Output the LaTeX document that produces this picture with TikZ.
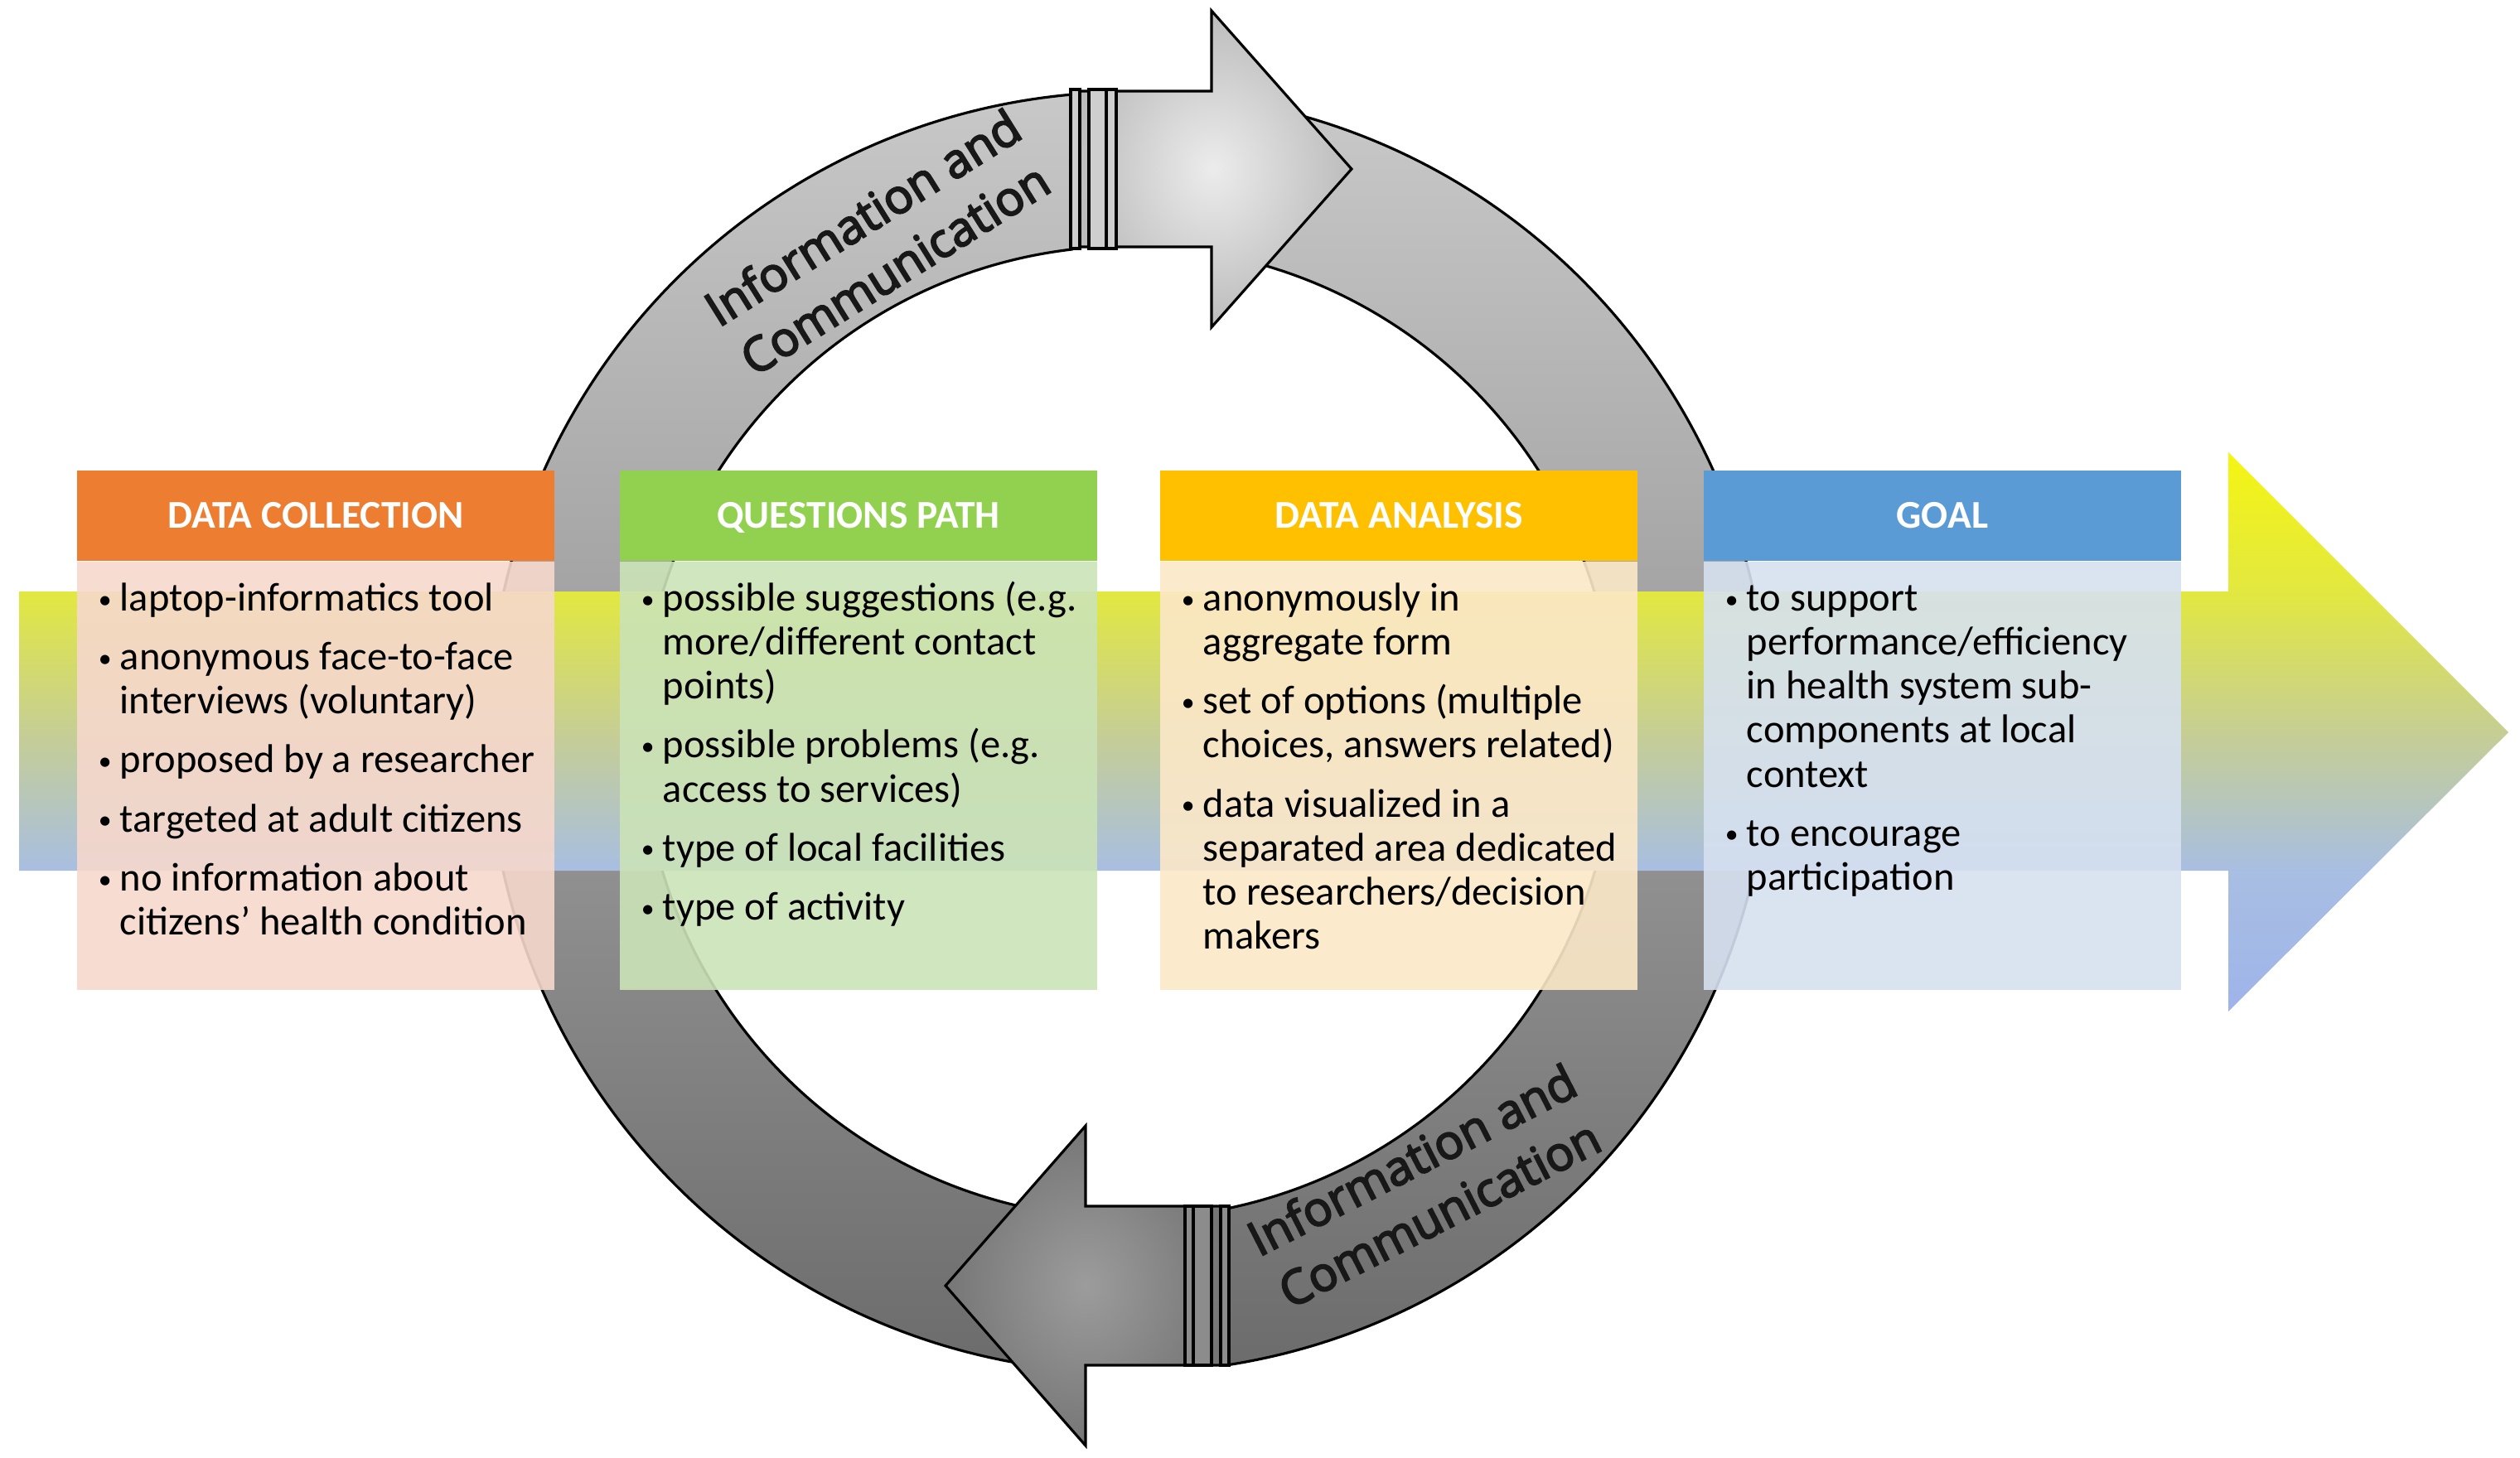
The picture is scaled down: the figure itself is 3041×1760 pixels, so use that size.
\documentclass[tikz,border=0pt]{standalone}
\usepackage{fontspec}
\setmainfont{Carlito}
\newfontfamily\ringfont[FakeBold=3.5]{Open Sans}
\usetikzlibrary{positioning,calc}

\definecolor{dccol}{HTML}{ED7D31}
\definecolor{qpcol}{HTML}{92D050}
\definecolor{dacol}{HTML}{FFC000}
\definecolor{goalcol}{HTML}{5B9BD5}
\definecolor{dcbody}{RGB}{246,216,204}
\definecolor{qpbody}{RGB}{203,227,183}
\definecolor{dabody}{RGB}{252,232,200}
\definecolor{goalbody}{RGB}{214,225,240}
\definecolor{ringtop}{RGB}{200,200,200}
\definecolor{ringbot}{RGB}{108,108,108}
\definecolor{flowtop}{RGB}{245,245,18}
\definecolor{flowhigh}{RGB}{226,232,64}
\definecolor{flowmid}{RGB}{198,206,148}
\definecolor{flowlow}{RGB}{168,190,226}
\definecolor{flowbot}{RGB}{158,180,234}
\pgfdeclareverticalshading{flowshade}{100bp}{color(0bp)=(flowbot); color(25bp)=(flowbot);
  color(37.5bp)=(flowlow); color(50bp)=(flowmid); color(62.5bp)=(flowhigh);
  color(75bp)=(flowtop); color(100bp)=(flowtop)}

\newcommand\bul{\makebox[0.26cm][l]{\raisebox{0.9pt}{\fontsize{9}{9}\selectfont\textbullet}}}
\newcommand\ind{\hspace*{0.26cm}}

\begin{document}
\begin{tikzpicture}[x=0.01cm, y=0.01cm,
    ring/.style={draw=black, line width=0.9pt, top color=ringtop, bottom color=ringbot},
    bar/.style={draw=black, line width=0.9pt},
    ringtxt/.style={align=center, inner sep=0pt, text={rgb,255:red,24;green,24;blue,24},
      font=\ringfont\fontsize{16.3}{20.8}\selectfont},
    head/.style={minimum width=5.76cm, minimum height=1.09cm, inner sep=0pt, text=white,
      font=\bfseries\fontsize{13.5}{15}\selectfont, text height=8.7pt, text depth=0pt},
    body/.style={minimum width=5.76cm, minimum height=5.16cm, inner sep=0pt, fill opacity=0.9},
    list/.style={inner sep=0pt, align=left, font=\fontsize{13.8}{15.1}\selectfont}]

  \useasboundingbox (0,0) rectangle (3041,-1760);
  \coordinate (O) at (1362,-884);

  % the two circular arrows
  \path[ring] ($(O)+(262:773)$) arc[start angle=262, end angle=95.1, radius=773]
    -- ($(O)+(96.75:587)$) arc[start angle=96.75, end angle=262, radius=587] -- cycle;
  \path[ring] ($(O)+(78:773)$) arc[start angle=78, end angle=-81, radius=773]
    -- ($(O)+(-78.1:587)$) arc[start angle=-78.1, end angle=78, radius=587] -- cycle;

  \path[draw=black, line width=0.9pt, inner color={rgb,255:red,236;green,236;blue,236},
      outer color={rgb,255:red,188;green,188;blue,188}]
    (1296,-110) -- (1462,-110) -- (1462,-13) -- (1631,-204) -- (1462,-395)
    -- (1462,-298) -- (1296,-298) -- cycle;
  \path[draw=black, line width=0.9pt, inner color={rgb,255:red,156;green,156;blue,156},
      outer color={rgb,255:red,118;green,118;blue,118}]
    (1480,-1456) -- (1310,-1456) -- (1310,-1359) -- (1141,-1552) -- (1310,-1745)
    -- (1310,-1648) -- (1480,-1648) -- cycle;

  \begin{scope}[every path/.style={bar, fill={rgb,255:red,206;green,206;blue,206}}]
    \path (1292,-108) rectangle (1303,-300);
    \path (1314,-108) rectangle (1335,-300);
    \path (1335,-108) rectangle (1347,-300);
  \end{scope}
  \begin{scope}[every path/.style={bar, fill={rgb,255:red,140;green,140;blue,140}}]
    \path (1430,-1456) rectangle (1440,-1648);
    \path (1440,-1456) rectangle (1462,-1648);
    \path (1473,-1456) rectangle (1483,-1648);
  \end{scope}

  \node[ringtxt, rotate=32] (ictop) at (1060,-293) {Information and\\Communication};
  \node[ringtxt, rotate=27] (icbot) at (1720,-1432) {Information and\\Communication};

  % the flow arrow behind the boxes
  \path[shading=flowshade]
    (23,-714) -- (2689,-714) -- (2689,-546) -- (3027,-884) -- (2689,-1221)
    -- (2689,-1051) -- (23,-1051) -- cycle;

  % headers
  \node[head, fill=dccol]   (dch)   at (381,-622.5)  {DATA COLLECTION};
  \node[head, fill=qpcol]   (qph)   at (1036,-622.5) {QUESTIONS PATH};
  \node[head, fill=dacol]   (dah)   at (1688,-622.5) {DATA ANALYSIS};
  \node[head, fill=goalcol] (goalh) at (2344,-622.5) {GOAL};

  % bodies
  \node[body, fill=dcbody,   below=0pt of dch]   (dcb)   {};
  \node[body, fill=qpbody,   below=0pt of qph]   (qpb)   {};
  \node[body, fill=dabody,   below=0pt of dah]   (dab)   {};
  \node[body, fill=goalbody, below=0pt of goalh] (goalb) {};

  \node[list, below right=0.22cm and 0.26cm of dcb.north west] (dcl) {%
    \strut\bul laptop-informatics tool\\[0.18cm]
    \bul anonymous face-to-face\\
    \ind interviews (voluntary)\\[0.18cm]
    \bul proposed by a researcher\\[0.18cm]
    \bul targeted at adult citizens\\[0.18cm]
    \bul no information about\\
    \ind citizens’ health condition};

  \node[list, below right=0.22cm and 0.26cm of qpb.north west] (qpl) {%
    \strut\bul possible suggestions (e.g.\\
    \ind more/different contact\\
    \ind points)\\[0.18cm]
    \bul possible problems (e.g.\\
    \ind access to services)\\[0.18cm]
    \bul type of local facilities\\[0.18cm]
    \bul type of activity};

  \node[list, below right=0.22cm and 0.26cm of dab.north west] (dal) {%
    \strut\bul anonymously in\\
    \ind aggregate form\\[0.18cm]
    \bul set of options (multiple\\
    \ind choices, answers related)\\[0.18cm]
    \bul data visualized in a\\
    \ind separated area dedicated\\
    \ind to researchers/decision\\
    \ind makers};

  \node[list, below right=0.22cm and 0.26cm of goalb.north west] (goall) {%
    \strut\bul to support\\
    \ind performance/efficiency\\
    \ind in health system sub-\\
    \ind components at local\\
    \ind context\\[0.18cm]
    \bul to encourage\\
    \ind participation};

\end{tikzpicture}
\end{document}
